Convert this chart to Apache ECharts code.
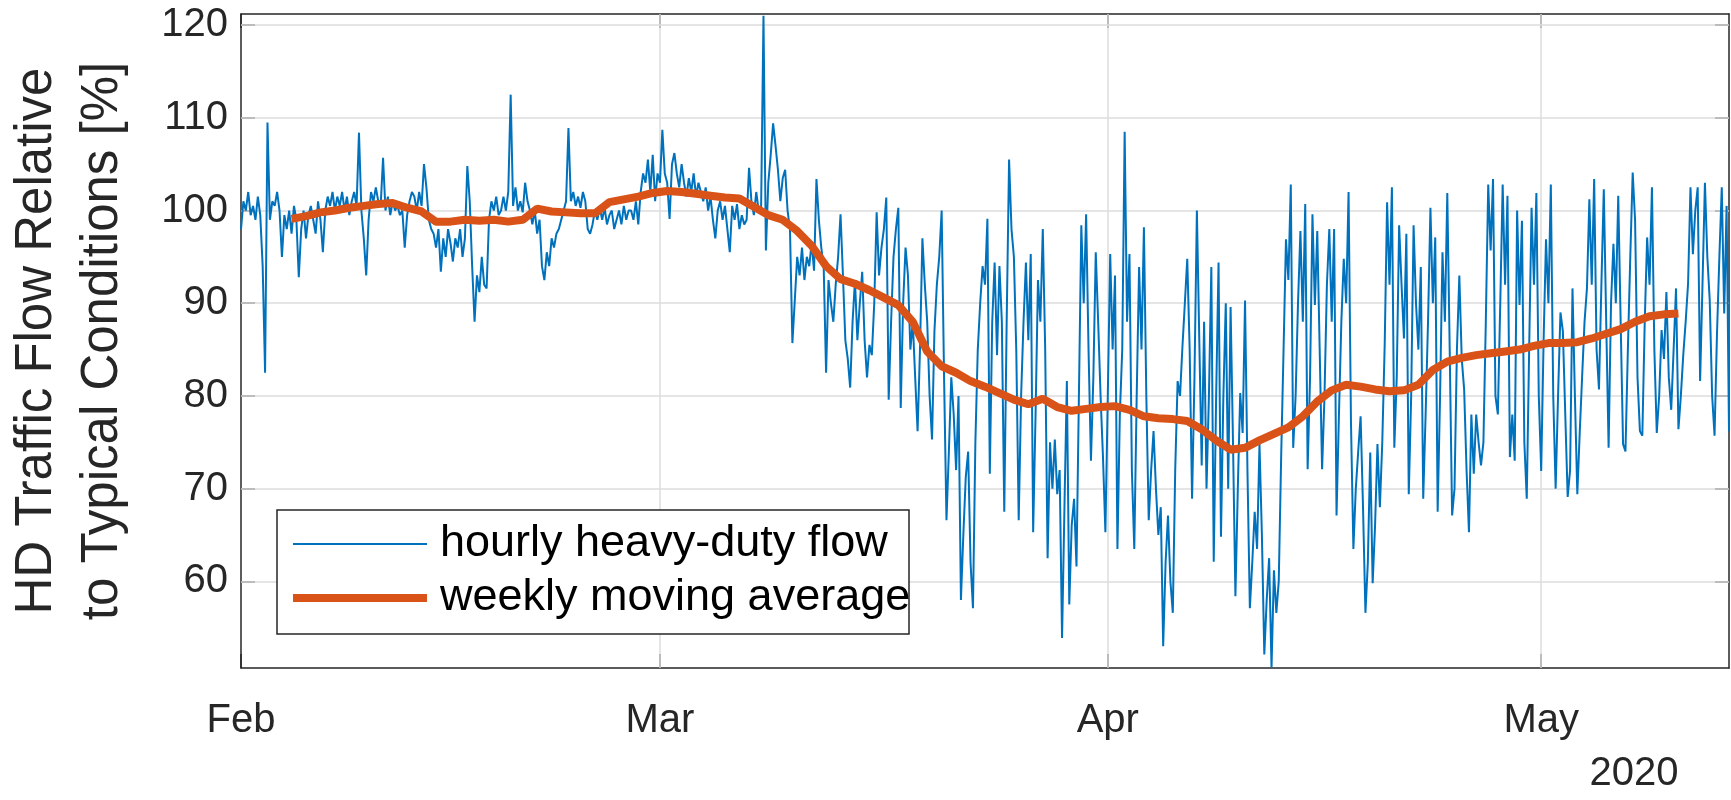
<!DOCTYPE html>
<html>
<head>
<meta charset="utf-8">
<script src="https://cdn.jsdelivr.net/npm/echarts@6/dist/echarts.min.js"></script>
<style>
html,body{margin:0;padding:0;background:#fff;}
#chart{width:1731px;height:800px;}
</style>
</head>
<body>
<div id="chart"></div>
<script>
// ---- data ----
const seriesNames = ['hourly heavy-duty flow', 'weekly moving average'];
const startDate = [2020, 1, 1];      // Feb 1 2020, 00:00
const stepHours = 4;                 // sampling step of the flow values
// flow values, 6 per day (00,04,08,12,16,20h) from Feb 1 to May 13, plus May 14 00:00
const hourlyFlow = [
  98,101,100,102,99.5,100.5,  99,101.5,99.5,94,82.5,109.5,  99,101,100.5,102,100,95,
  99.5,98,100,97.5,100.5,99,  92.8,98,100,97,99.5,100.5,  99,97.5,101,99,95.5,100,
  101.5,100.5,102,100,101.5,100.5,  102,100,101.5,99.5,101,102,  100.5,108.4,100,97,93,99,
  102,101,102.5,101,100.5,105.7,  100,101.5,99.5,101,100,100.5,  99.5,100,96,99.5,101,102,
  101.5,100,102,100.5,105,102.5,  99,98,97.5,96,98,93.4,  97,95,98,96.5,94.5,97,
  96,98,95,97,104.8,101,  94,88,93,91.2,95,92,  91.6,99,101,100,101.5,99.5,
  100,101.5,100,102,112.5,100.5,  102.5,100,101,99.8,103,101,  100,98.5,100,97.5,99,94,
  92.5,95.5,94,97,96,97.5,  98,99,100,101,108.9,101,  102,100.5,101.5,100.3,102,101,
  98,97.5,98.5,100,99,100.3,  99,100.3,98.5,99.5,100,98,  99,100,98.5,100.5,99,100,
  100,99,101,98.5,102,104,  103,105.5,102,106,101,104,  103,108.7,104,103,99.1,105,
  106.2,104,102.5,105,103,101.5,  103.5,102,104,101.5,103,102,  101,102.5,100,101.5,99,97,
  100,101,99,100.5,98,95.5,  100.5,99,100.7,98,99.5,98.5,  99,104.6,101,99.5,102,100,
  100,121,95.7,103,106,109.4,  107,104.4,101,103.5,104.4,100,  98,85.7,90.3,95,93,96,
  92.5,95,94,96.5,93.5,103.4,  99,96,94,82.5,92.5,90,  88,92,95,99.6,93,86,
  84,80.9,88,92.5,86,90,  93.4,86,82,85.5,84.4,90,  99.8,93,96,98,101.4,79.6,
  88,95,98,100.3,78.7,90,  96,93,85,88,82,76.2,  85,97,92,88,80,75.3,
  87,92,95,100,82,66.6,  74,82,78,72,80,58,  65,71.2,74,62,57.1,75,
  85,90,94,92,99.1,71.6,  88,94.4,84.4,94,88,67.5,  88,105.5,98,95,84.8,66.6,
  80,88,94.4,86,95.3,65.3,  78,92.5,88,98,85,62.5,  75,70,75.3,69.4,72,53.9,
  68,81.6,57.5,66,68.9,61.6,  80,98.4,90,99.6,85,73,  82,95.5,88,80,73.4,65.3,
  80,95.3,85,93,63.5,78,  85,108.5,88,95.3,72,63.5,  80,93.9,85,98.2,80,66.6,
  72,76.2,70,65,68,53,  62,67.1,60,56.6,72,81.6,  80,85.3,90,94.8,85,68.9,
  82,100,86,72.5,88,70,  80,93.9,62.1,80,94.4,64.8,  80,90,70,89.6,75,58.4,
  70,80.3,76,90.3,72,57.1,  62,67.5,63.5,74.8,65,52.1,  58,62.5,50.7,61.2,56.6,60,
  73.4,85,96.9,92.5,102.8,74.4,  80,90,97.8,88,100.7,72.1,  82,99.6,89.8,97.8,85,72.1,
  80,92,98,88,98,67.1,  78,88,94.8,90,102,77.1,  63.5,70,74,77.8,68,56.6,
  62,73.9,59.8,66,74.8,68,  75,85.5,100.9,92,102.5,74.4,  82,98.4,92,86.2,97.5,69.4,
  80,98.4,90,85,93.9,68.9,  78,88,100.3,90,97.1,67.5,  80,95.5,88,101.9,85,67.1,
  70,85,93,84,80.7,72,  65.3,78,71.6,78,75,72.5,  75,88,102.8,95.7,103.4,80,
  78,90,102.8,92,101.6,73.4,  78,73,100,89.8,98.9,75,  68.9,85,100.3,92,101.9,80,
  71.9,86,96.9,90,102.8,80,  70,80,89,87,78,69.1,  72,91.6,80,69.4,76,82.1,
  88,91.6,101.2,92,103.4,85,  80.7,92,102.3,88,74.4,90,  96.4,90,101.6,88,74.8,74,
  85,95,104.1,98.9,82,76.2,  75.7,88,97.1,92,102.5,85,  76,80,87.1,84,91.2,82,
  78.5,85,91.6,76.4,80,84.4,  88,92.1,102.5,95.3,100,102.5,  81.6,92.1,103,95,90.3,80,
  75.7,86.6,95,102.5,88.9,100.5,
  76.2
];
// weekly moving average, one value per day at 12:00, from Feb 4 to May 10
const avgStartDay = 3.5;             // days after Feb 1 00:00
const weeklyAvg = [
  99.1,99.4,99.8,100.0,100.3,100.5,100.7,100.8,100.3,99.9,
  98.8,98.8,99.0,98.9,99.0,98.8,99.0,100.2,99.9,99.8,
  99.7,99.7,100.9,101.2,101.5,101.9,102.1,102.0,101.8,101.6,
  101.4,101.3,100.4,99.5,99.0,97.8,96.2,94.0,92.6,92.1,
  91.4,90.6,89.8,88.0,84.8,83.2,82.5,81.6,81.0,80.3,
  79.6,79.1,79.7,78.8,78.4,78.6,78.8,78.9,78.5,77.8,
  77.6,77.5,77.3,76.4,75.2,74.2,74.4,75.2,75.9,76.6,
  77.8,79.4,80.6,81.2,81.0,80.7,80.5,80.6,81.2,82.8,
  83.7,84.1,84.4,84.6,84.8,85.0,85.4,85.7,85.7,85.8,
  86.2,86.7,87.2,88.0,88.6,88.8,88.9
];
const monthTickDates = [[2020,1,1],[2020,2,1],[2020,3,1],[2020,4,1]];
const monthLabels = ['Feb','Mar','Apr','May'];
const axisEndDate = [2020, 4, 14];   // May 14 2020
const yTicks = [60,70,80,90,100,110,120];
const yRange = [50.65, 121.2];
const yTitle = 'HD Traffic Flow Relative\nto Typical Conditions [%]';
const yearLabel = '2020';

// ---- build ----
const HOUR = 3600000, DAY = 24 * HOUR;
const t0 = Date.UTC(startDate[0], startDate[1], startDate[2]);
const tEnd = Date.UTC(axisEndDate[0], axisEndDate[1], axisEndDate[2]);
const monthTicks = monthTickDates.map(d => Date.UTC(d[0], d[1], d[2]));
const flowData = hourlyFlow.map((v, i) => [t0 + i * stepHours * HOUR, v]);
const avgData = weeklyAvg.map((v, i) => [t0 + (avgStartDay + i) * DAY, v]);

const FONT = "'Liberation Sans', Arial, Helvetica, sans-serif";
const AX = '#262626';
const BLUE = '#0072BD', ORANGE = '#D95319';

const chart = echarts.init(document.getElementById('chart'), null, {renderer: 'canvas'});

const axisLineStyle = {color: AX, width: 1.5};
function monthName(v) {
  const i = monthTicks.findIndex(t => Math.abs(t - v) < HOUR);
  return i >= 0 ? monthLabels[i] : '';
}
const option = {
  backgroundColor: '#ffffff',
  animation: false,
  grid: {left: 241, right: 2, top: 14, bottom: 132, containLabel: false, outerBoundsMode: 'none'},
  xAxis: [{
    type: 'value', min: t0, max: tEnd, position: 'bottom', scale: true,
    axisLine: {show: true, onZero: false, lineStyle: axisLineStyle},
    axisTick: {show: true, inside: true, length: 14, customValues: monthTicks, lineStyle: axisLineStyle},
    axisLabel: {
      customValues: monthTicks, fontSize: 40, color: AX, fontFamily: FONT, margin: 33,
      formatter: v => monthName(+v)
    },
    splitLine: {show: false}
  }, {
    type: 'value', min: t0, max: tEnd, position: 'top', scale: true,
    axisLine: {show: true, onZero: false, lineStyle: axisLineStyle},
    axisTick: {show: true, inside: true, length: 14, customValues: monthTicks, lineStyle: axisLineStyle},
    axisLabel: {show: false},
    splitLine: {show: false}
  }],
  yAxis: [{
    type: 'value', min: yRange[0], max: yRange[1], position: 'left', scale: true,
    axisLine: {show: true, onZero: false, lineStyle: axisLineStyle},
    axisTick: {show: true, inside: true, length: 14, customValues: yTicks, lineStyle: axisLineStyle},
    axisLabel: {customValues: yTicks, fontSize: 40, color: AX, fontFamily: FONT, margin: 13},
    splitLine: {show: false},
    name: yTitle, nameLocation: 'middle', nameRotate: 90, nameGap: 105,
    nameTextStyle: {fontSize: 51, lineHeight: 66, color: AX, fontFamily: FONT, align: 'center'}
  }, {
    type: 'value', min: yRange[0], max: yRange[1], position: 'right', scale: true,
    axisLine: {show: true, onZero: false, lineStyle: axisLineStyle},
    axisTick: {show: true, inside: true, length: 14, customValues: yTicks, lineStyle: axisLineStyle},
    axisLabel: {show: false},
    splitLine: {show: false}
  }],
  series: [{
    name: 'grid', type: 'line', data: [], silent: true, z: 1,
    markLine: {
      silent: true, symbol: 'none', z: 1, animation: false,
      label: {show: false},
      lineStyle: {color: '#dcdcdc', width: 1.5, type: 'solid'},
      emphasis: {disabled: true},
      data: yTicks.map(v => ({yAxis: v})).concat(monthTicks.slice(1).map(t => ({xAxis: t})))
    }
  }, {
    name: seriesNames[0], type: 'line', data: flowData, z: 2,
    symbol: 'none', showSymbol: false, sampling: false,
    lineStyle: {color: BLUE, width: 2}, itemStyle: {color: BLUE},
    silent: true
  }, {
    name: seriesNames[1], type: 'line', data: avgData, z: 3,
    symbol: 'none', showSymbol: false,
    lineStyle: {color: ORANGE, width: 8}, itemStyle: {color: ORANGE},
    silent: true
  }],
  graphic: [
    {type: 'rect', z: 100, shape: {x: 277, y: 510, width: 632, height: 124},
      style: {fill: '#ffffff', stroke: AX, lineWidth: 1.5}},
    {type: 'line', z: 101, shape: {x1: 293, y1: 544, x2: 427, y2: 544},
      style: {stroke: BLUE, lineWidth: 2}},
    {type: 'line', z: 101, shape: {x1: 293, y1: 598, x2: 427, y2: 598},
      style: {stroke: ORANGE, lineWidth: 8}},
    {type: 'text', z: 101, x: 440, y: 544,
      style: {text: seriesNames[0], fontSize: 45, fontFamily: FONT, fill: '#000', verticalAlign: 'middle'}},
    {type: 'text', z: 101, x: 440, y: 598,
      style: {text: seriesNames[1], fontSize: 45, fontFamily: FONT, fill: '#000', verticalAlign: 'middle'}},
    {type: 'text', z: 101, x: 1634, y: 774,
      style: {text: yearLabel, fontSize: 40, fontFamily: FONT, fill: AX, align: 'center', verticalAlign: 'middle'}}
  ]
};
chart.setOption(option);
</script>
</body>
</html>
